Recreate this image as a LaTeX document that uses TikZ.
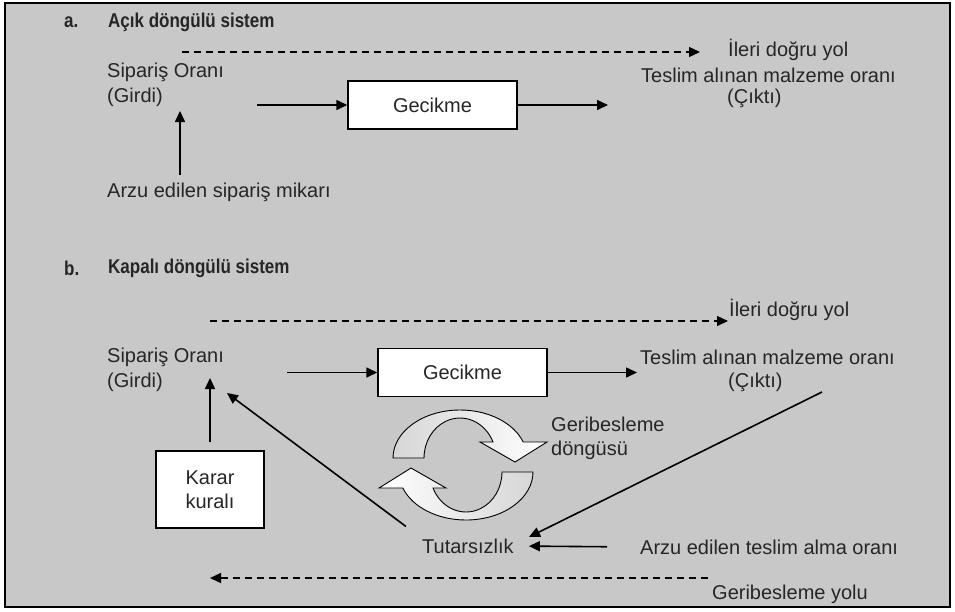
\documentclass[tikz,border=0pt]{standalone}
\usepackage{fontspec}
\setmainfont{Liberation Sans}
\newfontfamily\baslikfont{Liberation Sans}[FakeStretch=0.85]
\usetikzlibrary{arrows.meta}
\definecolor{zemingri}{RGB}{200,200,200}
\definecolor{halkagri}{RGB}{214,214,214}
\definecolor{yazirengi}{RGB}{38,38,38}

\begin{document}
\begin{tikzpicture}[x=1pt,y=1pt,yscale=-1]

%
% Styles
%
\tikzstyle{yazi} = [inner sep=0pt,anchor=west,align=left,text=yazirengi,font=\fontsize{20}{24.5}\selectfont]
\tikzstyle{baslik} = [inner sep=0pt,anchor=west,text=yazirengi,font=\baslikfont\fontsize{20}{24}\selectfont\bfseries]
\tikzstyle{blok} = [rectangle,draw,fill=white,line width=1.5pt,minimum width=169pt,minimum height=48pt,text=yazirengi,font=\fontsize{20}{24.5}\selectfont]
\tikzstyle{ok} = [-{Triangle[length=11pt,width=10pt]},line width=1.6pt]
\tikzstyle{kesik} = [ok,line width=1.3pt,dash pattern=on 7pt off 5pt]
\tikzstyle{halka} = [draw,line width=0.9pt]

\useasboundingbox (0,0) rectangle (955,611);
\draw[fill=zemingri,line width=2.5pt] (5,3) rectangle (950,607);

%
% a. Acik dongulu sistem
%
\node[baslik] (a) at (64,22) {a.};
\node[baslik] (acik) at (108,22) {Açık döngülü sistem};
\node[yazi] (ileriA) at (728,50) {İleri doğru yol};
\node[yazi] (sipA) at (107,85) {Sipariş Oranı\\(Girdi)};
\node[blok] (gecA) at (432.5,105) {Gecikme};
\node[yazi] (teslimA) at (641,75) {Teslim alınan malzeme oranı};
\node[yazi] (ciktiA) at (727,98) {(Çıktı)};
\node[yazi] (arzuA) at (107,192) {Arzu edilen sipariş mikarı};

\coordinate (ileriBasA) at (182,52);
\coordinate (ileriUcA) at (700,52);
\coordinate (girisA) at (257,105);
\coordinate (cikisA) at (608,105);
\coordinate (arzuUstA) at (180,175);
\coordinate (sipAltA) at (180,111);

\draw[kesik] (ileriBasA) -- (ileriUcA);
\draw[ok] (girisA) -- (gecA);
\draw[ok] (gecA) -- (cikisA);
\draw[ok] (arzuUstA) -- (sipAltA);

%
% b. Kapali dongulu sistem
%
\node[baslik] (b) at (64,268) {b.};
\node[baslik] (kapali) at (108,268) {Kapalı döngülü sistem};
\node[yazi] (ileriB) at (729,310) {İleri doğru yol};
\node[yazi] (sipB) at (107,370) {Sipariş Oranı\\(Girdi)};
\node[blok] (gecB) at (462.5,372.5) {Gecikme};
\node[yazi] (teslimB) at (640,357) {Teslim alınan malzeme oranı};
\node[yazi] (ciktiB) at (728,382) {(Çıktı)};
\node[blok,align=center,minimum width=108pt,minimum height=77pt] (karar) at (210,489.5) {Karar\\kuralı};
\node[yazi] (geri) at (551,438.5) {Geribesleme\\döngüsü};
\node[yazi] (tutar) at (422,546) {Tutarsızlık};
\node[yazi] (arzuB) at (640,547) {Arzu edilen teslim alma oranı};
\node[yazi] (geriYol) at (712,594) {Geribesleme yolu};

\coordinate (ileriBasB) at (210,321);
\coordinate (ileriUcB) at (728,321);
\coordinate (girisB) at (287,372.5);
\coordinate (cikisB) at (637,372.5);
\coordinate (sipAltB) at (210,378);
\coordinate (sipSagB) at (227,393);
\coordinate (ciktiAltB) at (822,392);
\coordinate (farkUc) at (529,537);
\coordinate (geriYolBas) at (708,578);
\coordinate (geriYolUc) at (210,578);

\draw[kesik] (ileriBasB) -- (ileriUcB);
\draw[ok] (girisB) -- (gecB);
\draw[ok] (gecB) -- (cikisB);
\draw[ok,shorten <=8pt] (karar) -- (sipAltB);
\draw[ok,shorten <=20pt] (tutar.north west) -- (sipSagB);
\draw[ok] (ciktiAltB) -- (farkUc);
\draw[ok,shorten <=33pt,shorten >=15pt] (arzuB.west) -- (tutar.east);
\draw[kesik] (geriYolBas) -- (geriYolUc);

% geribesleme halkasi
\path[halka,left color=halkagri,right color=white]
  (393,458) arc[start angle=180,end angle=340.5,x radius=67,y radius=48]
  -- (547,442) -- (515,462) -- (480,442) -- (493,442)
  arc[start angle=336.4,end angle=180,x radius=36,y radius=40] -- cycle;
\path[halka,left color=white,right color=halkagri]
  (533,472) arc[start angle=0,end angle=160.5,x radius=67,y radius=48]
  -- (379,488) -- (411,468) -- (446,488) -- (433,488)
  arc[start angle=156.4,end angle=0,x radius=36,y radius=40] -- cycle;

\end{tikzpicture}
\end{document}
